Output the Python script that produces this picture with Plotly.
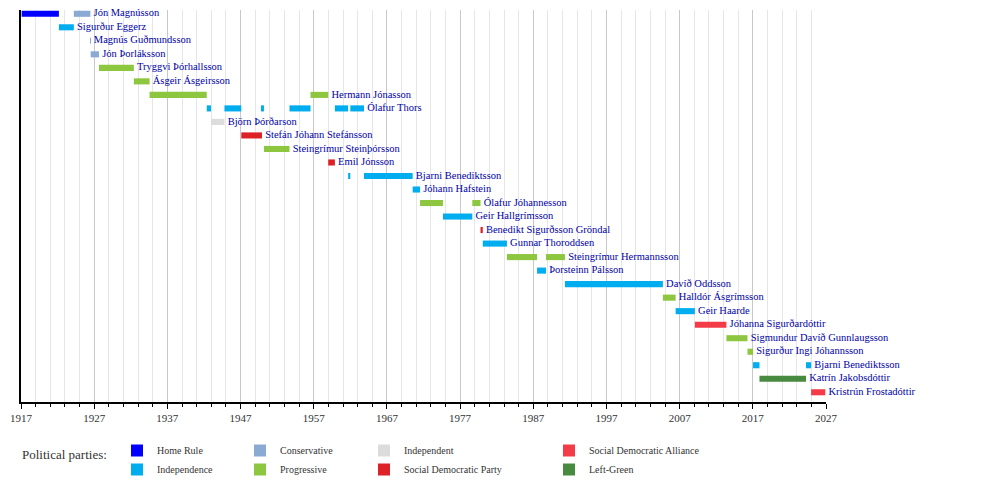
import plotly.graph_objects as go

# ---- data ----
row_names = [
    "Jón Magnússon", "Sigurður Eggerz", "Magnús Guðmundsson", "Jón Þorláksson",
    "Tryggvi Þórhallsson", "Ásgeir Ásgeirsson", "Hermann Jónasson", "Ólafur Thors",
    "Björn Þórðarson", "Stefán Jóhann Stefánsson", "Steingrímur Steinþórsson",
    "Emil Jónsson", "Bjarni Benediktsson", "Jóhann Hafstein", "Ólafur Jóhannesson",
    "Geir Hallgrímsson", "Benedikt Sigurðsson Gröndal", "Gunnar Thoroddsen",
    "Steingrímur Hermannsson", "Þorsteinn Pálsson", "Davíð Oddsson",
    "Halldór Ásgrímsson", "Geir Haarde", "Jóhanna Sigurðardóttir",
    "Sigmundur Davíð Gunnlaugsson", "Sigurður Ingi Jóhannsson",
    "Bjarni Benediktsson", "Katrín Jakobsdóttir", "Kristrún Frostadóttir",
]

# each term: row index (1-based), start year, end year, party
seg_row = [1, 1, 2, 3, 4, 5, 6, 7, 7,
           8, 8, 8, 8, 8, 8,
           9, 10, 11, 12, 13, 13, 14, 15, 15, 16, 17, 18, 19, 19, 20,
           21, 22, 23, 24, 25, 26, 27, 27, 28, 29]
seg_start = [1917.09, 1924.22, 1922.18, 1926.48, 1926.52, 1927.66, 1932.42, 1934.57, 1956.56,
             1942.38, 1944.80, 1949.93, 1953.69, 1959.89, 1962.00,
             1942.96, 1947.10, 1950.20, 1958.98, 1961.70, 1963.87, 1970.52, 1971.53, 1978.67,
             1974.66, 1979.79, 1980.10, 1983.40, 1988.74, 1987.52,
             1991.33, 2004.71, 2006.45, 2009.08, 2013.39, 2016.27, 2017.03, 2024.27, 2017.91, 2024.97]
seg_end = [1922.18, 1926.48, 1924.22, 1926.52, 1927.66, 1932.42, 1934.57, 1942.38, 1958.98,
           1942.96, 1947.10, 1950.20, 1956.56, 1961.70, 1963.87,
           1944.80, 1949.93, 1953.69, 1959.89, 1962.00, 1970.52, 1971.53, 1974.66, 1979.79,
           1978.67, 1980.10, 1983.40, 1987.52, 1991.33, 1988.74,
           2004.71, 2006.45, 2009.08, 2013.39, 2016.27, 2017.03, 2017.91, 2024.97, 2024.27, 2026.90]
seg_party = ["Home Rule", "Conservative", "Independence", "Conservative", "Conservative",
             "Progressive", "Progressive", "Progressive", "Progressive",
             "Independence", "Independence", "Independence", "Independence", "Independence", "Independence",
             "Independent", "Social Democratic Party", "Progressive", "Social Democratic Party",
             "Independence", "Independence", "Independence", "Progressive", "Progressive",
             "Independence", "Social Democratic Party", "Independence", "Progressive", "Progressive",
             "Independence", "Independence", "Progressive", "Independence",
             "Social Democratic Alliance", "Progressive", "Progressive", "Independence", "Independence",
             "Left-Green", "Social Democratic Alliance"]

parties = ["Home Rule", "Independence", "Conservative", "Progressive",
           "Independent", "Social Democratic Party", "Social Democratic Alliance", "Left-Green"]
party_colors = ["#0000ff", "#00adef", "#8aaad4", "#8dc63f",
                "#dcdcdc", "#dc2127", "#f43c48", "#488a40"]
legend_slot = ["legend", "legend", "legend2", "legend2",
               "legend3", "legend3", "legend4", "legend4"]

x_ticks = [1917, 1927, 1937, 1947, 1957, 1967, 1977, 1987, 1997, 2007, 2017, 2027]

SERIF = "Liberation Serif"

fig = go.Figure()

for p, c, lg in zip(parties, party_colors, legend_slot):
    idx = [i for i, q in enumerate(seg_party) if q == p]
    fig.add_trace(go.Bar(
        orientation="h",
        y=[seg_row[i] for i in idx],
        base=[seg_start[i] for i in idx],
        x=[seg_end[i] - seg_start[i] for i in idx],
        marker=dict(color=c, line=dict(width=0)),
        width=0.45,
        name=p,
        legend=lg,
        hoverinfo="skip",
    ))

# name labels after the last term of each row
label_x = []
for r in range(1, len(row_names) + 1):
    label_x.append(max(e for rr, e in zip(seg_row, seg_end) if rr == r))
fig.add_trace(go.Scatter(
    x=label_x, y=list(range(1, len(row_names) + 1)),
    mode="markers+text", text=row_names, textposition="middle right",
    marker=dict(size=3.5, opacity=0),
    textfont=dict(family=SERIF, size=10.5, color="#0000a8"),
    showlegend=False, hoverinfo="skip", cliponaxis=False,
))

# page has an 8px body margin: the figure is sized so the page matches 1000x482
OFF = 8
FW, FH = 1000 - OFF, 482 - OFF
PL, PR, PT, PB = 21, 826, 10, 402          # plot area in page pixels
pw, ph = PR - PL, PB - PT

def px_x(px):
    return (px - PL) / pw

def px_y(py):
    return (PB - py) / ph

legend_common = dict(
    orientation="v", yanchor="top", xanchor="left",
    font=dict(family=SERIF, size=10, color="#333333"),
    bgcolor="rgba(0,0,0,0)", tracegroupgap=0, itemclick=False,
)
leg_y = px_y(436)

fig.update_layout(
    width=FW, height=FH,
    margin=dict(l=PL - OFF, r=FW - (PR - OFF), t=PT - OFF, b=FH - (PB - OFF),
                autoexpand=False),
    paper_bgcolor="white", plot_bgcolor="white",
    barmode="overlay",
    showlegend=True,
    legend=dict(x=px_x(117), y=leg_y, **legend_common),
    legend2=dict(x=px_x(240), y=leg_y, **legend_common),
    legend3=dict(x=px_x(364), y=leg_y, **legend_common),
    legend4=dict(x=px_x(549), y=leg_y, **legend_common),
    xaxis=dict(
        range=[1917, 2027], tickmode="array", tickvals=x_ticks,
        ticktext=[str(t) for t in x_ticks],
        showgrid=True, gridcolor="#c8c8c8", gridwidth=1,
        ticks="outside", ticklen=5, tickcolor="black", tickwidth=1,
        ticklabelstandoff=0,
        showline=True, linecolor="black", linewidth=1.5,
        tickfont=dict(family=SERIF, size=11, color="#333333"),
        zeroline=False,
        minor=dict(dtick=2, tick0=1917, showgrid=True, gridcolor="#e6e6e6",
                   ticks="outside", ticklen=3, tickcolor="black"),
    ),
    yaxis=dict(
        range=[29.72, 0.72], showgrid=False, showticklabels=False,
        ticks="", showline=True, linecolor="black", linewidth=1.5,
        zeroline=False,
    ),
    annotations=[dict(
        text="Political parties:", xref="paper", yref="paper",
        x=px_x(20), y=px_y(455), xanchor="left", yanchor="middle",
        showarrow=False, font=dict(family=SERIF, size=13, color="#333333"),
    )],
)

fig.write_html("out.html")
